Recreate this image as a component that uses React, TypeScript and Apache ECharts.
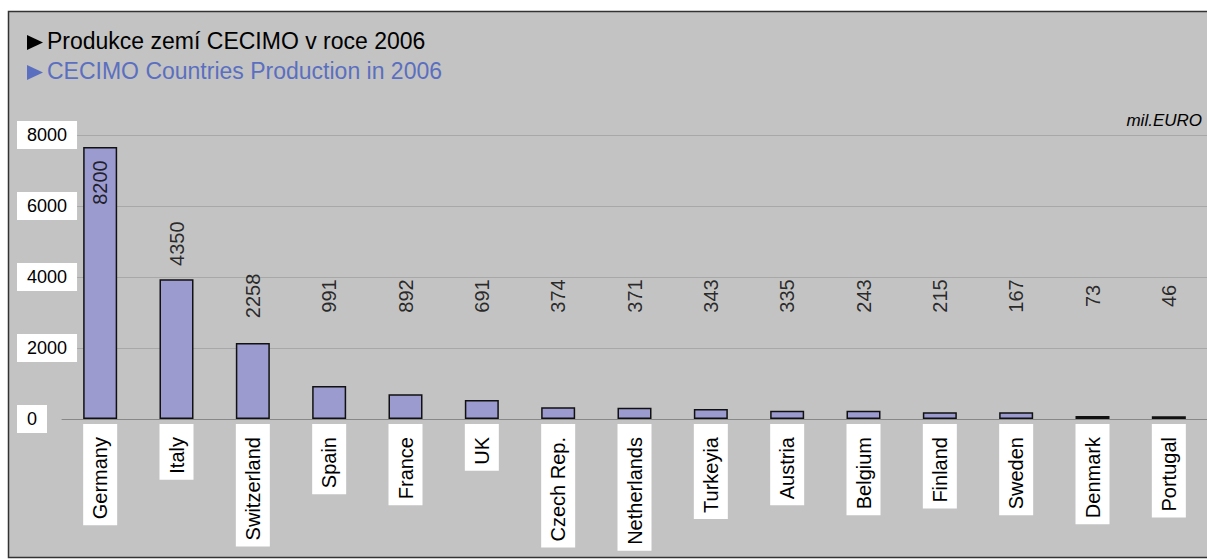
import React, { useEffect, useRef } from "react";
import * as echarts from "echarts";

const categories = [
  "Germany", "Italy", "Switzerland", "Spain", "France", "UK", "Czech Rep.",
  "Netherlands", "Turkeyia", "Austria", "Belgium", "Finland", "Sweden", "Denmark", "Portugal",
];
// printed production values (mil. EURO)
const production = [8200, 4350, 2258, 991, 892, 691, 374, 371, 343, 335, 243, 215, 167, 73, 46];
// bar heights as drawn in the original picture
const barHeights = [7660, 3940, 2140, 930, 700, 535, 330, 320, 280, 235, 235, 190, 190, 85, 80];
const yMin = 0;
const yMax = 8000;
const yInterval = 2000;

const titleCz = "Produkce zemí CECIMO v roce 2006";
const titleEn = "CECIMO Countries Production in 2006";
const unitLabel = "mil.EURO";

const FONT = "'Liberation Sans', Arial, Helvetica, sans-serif";

export default function App() {
  const ref = useRef<HTMLDivElement>(null);

  useEffect(() => {
    if (!ref.current) return;
    const chart = echarts.init(ref.current, undefined, { renderer: "svg" });

    // label anchor: inside tall bars, otherwise above bar but not lower than a floor line
    const labelAnchors = barHeights.map((v) =>
      v > 6000 ? v - 1000 : Math.max(v + 1000, 3465)
    );

    chart.setOption({
      animation: false,
      backgroundColor: "#ffffff",
      textStyle: { fontFamily: FONT },
      graphic: [
        {
          type: "rect",
          z: -10,
          silent: true,
          shape: { x: 8.5, y: 11.5, width: 1210, height: 546 },
          style: { fill: "#c3c3c3", stroke: "#333333", lineWidth: 1.5 },
        },
        {
          type: "polygon",
          silent: true,
          shape: { points: [[27, 35], [43, 42.5], [27, 50]] },
          style: { fill: "#000000" },
        },
        {
          type: "text",
          left: 47,
          top: 29,
          style: { text: titleCz, fill: "#000000", font: `23px ${FONT}` },
        },
        {
          type: "polygon",
          silent: true,
          shape: { points: [[27, 65], [43, 72.5], [27, 80]] },
          style: { fill: "#5b6fc0" },
        },
        {
          type: "text",
          left: 47,
          top: 59,
          style: { text: titleEn, fill: "#5b6fc0", font: `23px ${FONT}` },
        },
        {
          type: "text",
          right: 5,
          top: 112,
          style: { text: unitLabel, fill: "#000000", font: `italic 17px ${FONT}` },
        },
      ],
      grid: { left: 62, right: -4, top: 135, bottom: 559 - 419 },
      xAxis: {
        type: "category",
        data: categories,
        axisLine: { lineStyle: { color: "#888888", width: 1 } },
        axisTick: { length: 5, lineStyle: { color: "#888888" } },
        axisLabel: {
          interval: 0,
          rotate: 90,
          margin: 5,
          fontSize: 20,
          lineHeight: 22,
          fontFamily: FONT,
          color: "#000000",
          backgroundColor: "#ffffff",
          padding: [6, 13, 6, 6],
        },
      },
      yAxis: {
        type: "value",
        min: yMin,
        max: yMax,
        interval: yInterval,
        axisLine: { show: false },
        axisTick: { show: false },
        splitLine: { lineStyle: { color: "#a8a8a8", width: 1 } },
        axisLabel: {
          align: "left",
          margin: 45,
          fontSize: 18,
          lineHeight: 18,
          fontFamily: FONT,
          color: "#000000",
          backgroundColor: "#ffffff",
          padding: [5, 10, 5, 10],
          formatter: (v: number) => String(v),
        },
      },
      series: [
        {
          type: "bar",
          data: barHeights,
          barWidth: 34,
          itemStyle: { color: "#9b9bd0", borderColor: "#111111", borderWidth: 1.5 },
          silent: true,
        },
        {
          type: "scatter",
          data: labelAnchors,
          symbolSize: 1,
          itemStyle: { color: "rgba(0,0,0,0)" },
          silent: true,
          z: 5,
          label: {
            show: true,
            position: "inside",
            rotate: 90,
            align: "center",
            verticalAlign: "middle",
            fontSize: 20,
            fontFamily: FONT,
            color: "#000000",
            formatter: (p: any) => String(production[p.dataIndex]),
          },
        },
      ],
    });

    return () => chart.dispose();
  }, []);

  return (
    <div
      ref={ref}
      style={{ position: "fixed", left: 0, top: 0, width: 1207, height: 559 }}
    />
  );
}
